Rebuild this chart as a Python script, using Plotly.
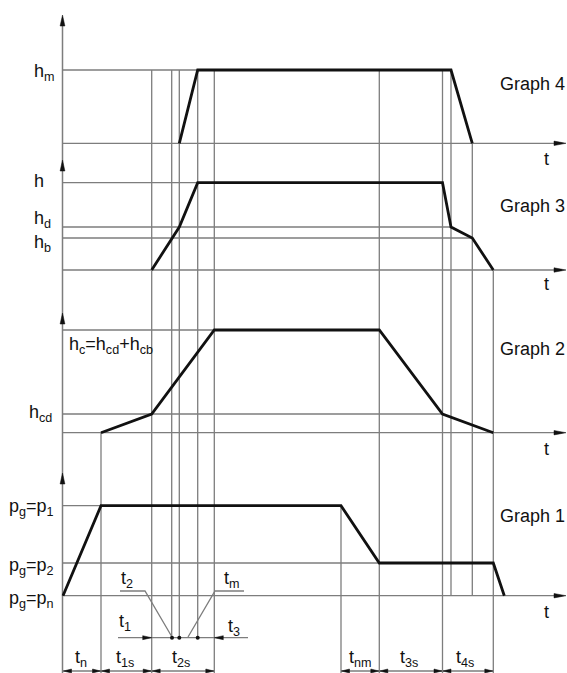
import plotly.graph_objects as go

# ---------------- data (shared time axis, level axis grows downward) ----------
T_ORIGIN = 63
T_END = 566

# level values of each graph
g4_levels = [143.3, 70]                 # base, hm
g3_levels = [270, 238, 227, 182.7]      # base, hb, hd, h
g2_levels = [432.7, 414, 330]           # base, hcd, hc
g1_levels = [595.7, 563, 505.7]         # pn, p2, p1

# the four curves
graph4_t = [179.3, 197.7, 451, 472.3]
graph4_v = [143.3, 70, 70, 143.3]
graph3_t = [151.7, 179.3, 197.7, 442.5, 451, 472.3, 493.3]
graph3_v = [270, 227, 182.7, 182.7, 227, 238, 270]
graph2_t = [101, 151.7, 214.3, 379.3, 442.5, 493.3]
graph2_v = [432.7, 414, 330, 330, 414, 432.7]
graph1_t = [63, 101, 341, 379.3, 493.3, 504.3]
graph1_v = [595.7, 505.7, 505.7, 563, 563, 595.7]

# vertical guide lines: time, top level, bottom level
v_guides_t = [101, 151.7, 171.7, 179.3, 197.7, 214.3, 341, 379.3, 442.5, 451, 472.3, 493.3]
v_guides_top = [432.7, 70, 70, 70, 70, 70, 505.7, 70, 70, 70, 143.3, 270]
v_guides_bot = [673, 673, 637.7, 637.7, 637.7, 673, 673, 673, 673, 595.7, 595.7, 673]

# horizontal guide lines: level, end time
h_guides_v = [70, 182.7, 227, 238, 330, 414, 505.7, 563]
h_guides_end = [451, 442.5, 451, 472.3, 379.3, 442.5, 341, 493.3]
baselines = [143.3, 270, 432.7, 595.7]
axis_arrows = [15, 160, 313, 473]

level_labels = ["h<sub>m</sub>", "h", "h<sub>d</sub>", "h<sub>b</sub>",
                "h<sub>c</sub>=h<sub>cd</sub>+h<sub>cb</sub>", "h<sub>cd</sub>",
                "p<sub>g</sub>=p<sub>1</sub>", "p<sub>g</sub>=p<sub>2</sub>", "p<sub>g</sub>=p<sub>n</sub>"]
level_label_x = [32, 32, 32, 32, 67, 27, 7, 7, 7]
level_label_y = [72, 181, 219, 243, 345, 413, 507, 566, 599]

graph_names = ["Graph 4", "Graph 3", "Graph 2", "Graph 1"]
graph_name_y = [84, 206, 349, 516]
t_label_y = [159, 284, 449, 612]

# bottom interval labels
intervals = ["t<sub>n</sub>", "t<sub>1s</sub>", "t<sub>2s</sub>", "t<sub>nm</sub>", "t<sub>3s</sub>", "t<sub>4s</sub>"]
interval_start = [63, 101, 151.7, 341, 379.3, 442.5]
interval_end = [101, 151.7, 214.3, 379.3, 442.5, 493.3]
interval_label_x = [81, 125, 181, 360, 409, 465]

GRAY = "#7d7d7d"
BLACK = "#111111"
FONT = "Liberation Sans, Arial, sans-serif"
FS = 18

fig = go.Figure()

# thin guides
xs, ys = [], []
for t, a, b in zip(v_guides_t, v_guides_top, v_guides_bot):
    xs += [t, t, None]; ys += [a, b, None]
for v, e in zip(h_guides_v, h_guides_end):
    xs += [T_ORIGIN, e, None]; ys += [v, v, None]
for v in baselines:
    xs += [T_ORIGIN, T_END - 4, None]; ys += [v, v, None]
# leader lines for t2 and tm
xs += [120, 145, 172, None, 188, 215, 244, None]
ys += [591, 591, 637, None, 637, 591, 591, None]
# t1/t3 dimension line
xs += [118, 248, None]; ys += [637.7, 637.7, None]
# bottom dimension lines
for s, e in zip(interval_start, interval_end):
    xs += [s, e, None]; ys += [671, 671, None]
fig.add_trace(go.Scatter(x=xs, y=ys, mode="lines", line=dict(color=GRAY, width=1.3),
                         hoverinfo="skip", showlegend=False))

# vertical axis
fig.add_trace(go.Scatter(x=[62.5, 62.5], y=[20, 673], mode="lines",
                         line=dict(color=GRAY, width=1.5), hoverinfo="skip", showlegend=False))

# curves
for tt, vv in [(graph4_t, graph4_v), (graph3_t, graph3_v), (graph2_t, graph2_v), (graph1_t, graph1_v)]:
    fig.add_trace(go.Scatter(x=tt, y=vv, mode="lines", line=dict(color=BLACK, width=2.8),
                             hoverinfo="skip", showlegend=False))

# dots on t1/t3 line
fig.add_trace(go.Scatter(x=[172, 179.3, 197.7], y=[637.7] * 3, mode="markers",
                         marker=dict(color=BLACK, size=4), hoverinfo="skip", showlegend=False))

# arrowheads as small filled triangles
axs, ays = [], []
def head(x, y, dx, dy, L=11, W=2.4):
    bx, by = x - dx * L, y - dy * L
    px, py = -dy * W, dx * W
    axs.extend([x, bx + px, bx - px, x, None])
    ays.extend([y, by + py, by - py, y, None])

for y in axis_arrows:
    head(62.5, y, 0, -1)
for v in baselines:
    head(T_END, v, 1, 0, L=12, W=2.2)
head(151.7, 637.7, 1, 0, L=9, W=2)
head(214.3, 637.7, -1, 0, L=9, W=2)
for s, e in zip(interval_start, interval_end):
    head(s + 0.5, 671, -1, 0, L=8, W=2)
    head(e - 0.5, 671, 1, 0, L=8, W=2)
fig.add_trace(go.Scatter(x=axs, y=ays, mode="lines", fill="toself", fillcolor=BLACK,
                         line=dict(color=BLACK, width=0.5), hoverinfo="skip", showlegend=False))

ann = []
def text(x, y, s, size=FS, anchor="left"):
    ann.append(dict(x=x, y=y, xref="x", yref="y", text=s, showarrow=False,
                    xanchor=anchor, yanchor="middle",
                    font=dict(family=FONT, size=size, color=BLACK)))

for s, x, y in zip(level_labels, level_label_x, level_label_y):
    text(x, y, s)
for s, y in zip(graph_names, graph_name_y):
    text(498, y, s)
for y in t_label_y:
    text(546, y, "t", anchor="center")
for s, x in zip(intervals, interval_label_x):
    text(x, 658, s, anchor="center")
text(127, 579, "t<sub>2</sub>", anchor="center")
text(232, 579, "t<sub>m</sub>", anchor="center")
text(125, 622, "t<sub>1</sub>", anchor="center")
text(234, 627, "t<sub>3</sub>", anchor="center")

fig.update_layout(
    width=567, height=673, margin=dict(l=0, r=0, t=0, b=0),
    paper_bgcolor="white", plot_bgcolor="white",
    xaxis=dict(range=[0, 567], visible=False, fixedrange=True),
    yaxis=dict(range=[673, 0], visible=False, fixedrange=True),
    annotations=ann, showlegend=False,
)
fig.write_html("out.html", config={"displayModeBar": False, "staticPlot": True},
               post_script="document.body.style.margin='0';document.body.style.overflow='hidden';")
